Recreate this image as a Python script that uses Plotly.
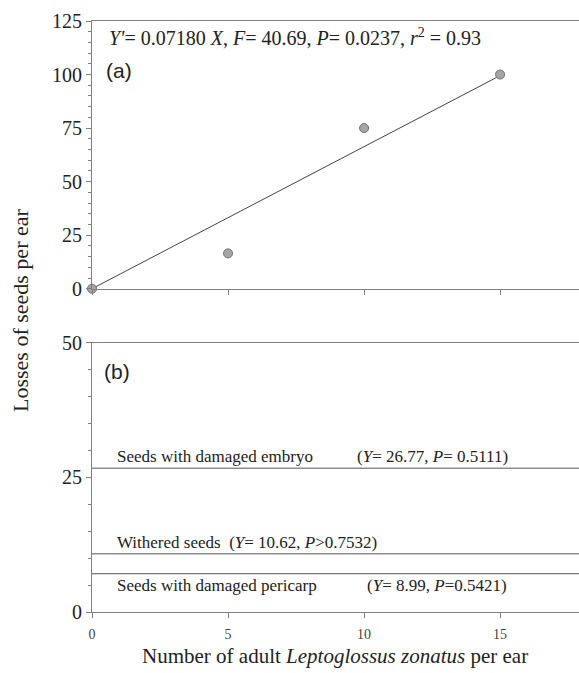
import plotly.graph_objects as go

# ---- data ----
adults = [0, 5, 10, 15]
seed_losses = [0, 16.5, 75, 100]
fit_x = [0, 15]
fit_y = [0, 99.5]

x_span = [0, 17.9]
level_names = ["embryo", "withered", "pericarp"]
level_values = [26.7, 10.8, 7.1]

x_ticks = [0, 5, 10, 15]
y_ticks_a = [0, 25, 50, 75, 100, 125]
y_ticks_b = [0, 25, 50]

SERIF = "Liberation Serif"
SANS = "Liberation Sans"
TXT = "#222222"
AX = "#808080"

fig = go.Figure()

fig.add_trace(go.Scatter(x=fit_x, y=fit_y, mode="lines",
                         line=dict(color="#444444", width=1),
                         xaxis="x", yaxis="y", showlegend=False, cliponaxis=False))
fig.add_trace(go.Scatter(x=adults, y=seed_losses, mode="markers",
                         marker=dict(size=9, color="#a6a6a6",
                                     line=dict(color="#6e6e6e", width=1)),
                         xaxis="x", yaxis="y", showlegend=False, cliponaxis=False))

for v in level_values:
    fig.add_trace(go.Scatter(x=x_span, y=[v, v], mode="lines",
                             line=dict(color="#555555", width=1),
                             xaxis="x2", yaxis="y2", showlegend=False))

axis_common = dict(showline=True, linecolor=AX, linewidth=1, zeroline=False,
                   showgrid=False, ticks="outside", tickcolor=AX, ticklen=5,
                   automargin=False)

fig.update_layout(
    width=579, height=673,
    margin=dict(l=92, r=0, t=21, b=61),
    paper_bgcolor="white", plot_bgcolor="white",
    xaxis=dict(domain=[0, 1], anchor="y", range=x_span, tickvals=x_ticks,
               showticklabels=False, mirror=True, **axis_common),
    yaxis=dict(domain=[0.547, 1], anchor="x", range=[0, 125], tickvals=y_ticks_a,
               tickfont=dict(family=SERIF, size=20, color=TXT),
               minor=dict(dtick=5, ticks="outside", ticklen=3, tickcolor=AX),
               **axis_common),
    xaxis2=dict(domain=[0, 1], anchor="y2", range=x_span, tickvals=x_ticks,
                tickfont=dict(family=SERIF, size=14, color="#444444"),
                ticklabelstandoff=4, mirror=True,
                **axis_common),
    yaxis2=dict(domain=[0, 0.4557], anchor="x2", range=[0, 50], tickvals=y_ticks_b,
                tickfont=dict(family=SERIF, size=20, color=TXT),
                minor=dict(dtick=5, ticks="outside", ticklen=3, tickcolor=AX),
                **axis_common),
)

ann = []
ann.append(dict(xref="x", yref="y", x=0.55, y=117.4, xanchor="left", yanchor="middle",
                text="<i>Y'</i>= 0.07180 <i>X</i>, <i>F</i>= 40.69, <i>P</i>= 0.0237, <i>r</i><sup>2</sup> = 0.93",
                showarrow=False, font=dict(family=SERIF, size=20, color=TXT)))
ann.append(dict(xref="x", yref="y", x=0.45, y=102, xanchor="left", yanchor="middle",
                text="(a)", showarrow=False, font=dict(family=SANS, size=21, color=TXT)))
ann.append(dict(xref="x2", yref="y2", x=0.38, y=44.6, xanchor="left", yanchor="middle",
                text="(b)", showarrow=False, font=dict(family=SANS, size=21, color=TXT)))

lab_font = dict(family=SERIF, size=17, color=TXT)
ann.append(dict(xref="x2", yref="y2", x=0.86, y=level_values[0], xanchor="left", yanchor="bottom",
                text="Seeds with damaged embryo", showarrow=False, font=lab_font))
ann.append(dict(xref="x2", yref="y2", x=9.68, y=level_values[0], xanchor="left", yanchor="bottom",
                text="(<i>Y</i>= 26.77, <i>P</i>= 0.5111)", showarrow=False, font=lab_font))
ann.append(dict(xref="x2", yref="y2", x=0.86, y=level_values[1], xanchor="left", yanchor="bottom",
                text="Withered seeds  (<i>Y</i>= 10.62, <i>P</i>>0.7532)", showarrow=False, font=lab_font))
ann.append(dict(xref="x2", yref="y2", x=0.86, y=level_values[2], xanchor="left", yanchor="top",
                text="Seeds with damaged pericarp", showarrow=False, font=lab_font))
ann.append(dict(xref="x2", yref="y2", x=10.05, y=level_values[2], xanchor="left", yanchor="top",
                text="(<i>Y</i>= 8.99, <i>P</i>=0.5421)", showarrow=False, font=lab_font))
ann.append(dict(xref="paper", yref="paper", x=(20 - 92) / 487, y=(612 - 311) / 591,
                xanchor="center", yanchor="middle",
                text="Losses of seeds per ear", textangle=-90, showarrow=False,
                font=dict(family=SERIF, size=22, color=TXT)))
ann.append(dict(xref="paper", yref="paper", x=(335 - 92) / 487, y=(612 - 656) / 591,
                xanchor="center", yanchor="middle",
                text="Number of adult <i>Leptoglossus zonatus</i> per ear", showarrow=False,
                font=dict(family=SERIF, size=21, color=TXT)))
fig.update_layout(annotations=ann)

fig.write_html("out.html", config={"displayModeBar": False},
               post_script="document.body.style.margin='0';document.body.style.overflow='hidden';")
